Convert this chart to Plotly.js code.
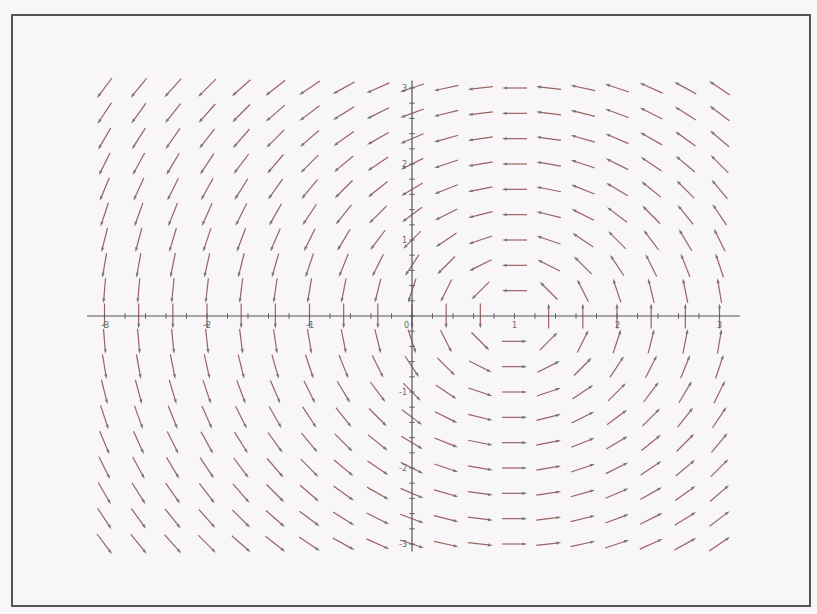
<!DOCTYPE html>
<html>
<head>
<meta charset="utf-8">
<script src="https://cdn.plot.ly/plotly-3.0.1.min.js"></script>
<style>html,body{margin:0;padding:0;background:#f8f6f8;}#chart{width:817px;height:614px;}</style>
</head>
<body>
<div id="chart"></div>
<script>
// Direction field of the system  x' = -y ,  y' = x - 1  (rotation about (1, 0))
const gridX = [-3, -2.6667, -2.3333, -2, -1.6667, -1.3333, -1, -0.6667, -0.3333, 0,
               0.3333, 0.6667, 1, 1.3333, 1.6667, 2, 2.3333, 2.6667, 3];
const gridY = [-3, -2.6667, -2.3333, -2, -1.6667, -1.3333, -1, -0.6667, -0.3333, 0,
               0.3333, 0.6667, 1, 1.3333, 1.6667, 2, 2.3333, 2.6667, 3];
const fieldDX = (x, y) => -y;
const fieldDY = (x, y) => x - 1;

const xTickVals = [-3, -2, -1, 0, 1, 2, 3];
const xTickLabels = ['-3', '-2', '-1', '0', '1', '2', '3'];
const yTickVals = [-3, -2, -1, 1, 2, 3];
const yTickLabels = ['-3', '-2', '-1', '1', '2', '3'];

const W = 817, H = 614;
const xRange = [-412 / 102.5, (W - 412) / 102.5];
const yRange = [-(H - 316) / 76, 316 / 76];
const pxX = W / (xRange[1] - xRange[0]);
const pxY = H / (yRange[1] - yRange[0]);
const halfLen = 12.5; // pixels

const ax = [], ay = [], msize = [];
gridX.forEach(x => {
  gridY.forEach(y => {
    const dx = fieldDX(x, y), dy = fieldDY(x, y);
    if (Math.hypot(dx, dy) < 1e-9) return; // equilibrium point: no arrow
    const a = Math.atan2(dy, dx);
    const hx = halfLen * Math.cos(a) / pxX;
    const hy = halfLen * Math.sin(a) / pxY;
    ax.push(x - hx, x + hx, null);
    ay.push(y - hy, y + hy, null);
    msize.push(0, 5, 0);
  });
});

// axis ticks
const tX = [], tY = [];
for (let i = -15; i <= 15; i++) { tX.push(i / 5); tY.push(0); }
const uX = [], uY = [];
for (let i = -15; i <= 15; i++) { uX.push(0); uY.push(i / 5); }

const traces = [
  {
    x: ax, y: ay, type: 'scatter', mode: 'lines+markers', hoverinfo: 'skip',
    line: {color: '#9a6262', width: 1.2},
    marker: {symbol: 'arrow', angleref: 'previous', size: msize, color: '#454545', line: {width: 0}},
    connectgaps: false
  },
  {
    x: tX, y: tY, type: 'scatter', mode: 'markers', hoverinfo: 'skip',
    marker: {symbol: 'line-ns', size: 4, line: {color: '#666', width: 1}}
  },
  {
    x: uX, y: uY, type: 'scatter', mode: 'markers', hoverinfo: 'skip',
    marker: {symbol: 'line-ew', size: 4, line: {color: '#666', width: 1}}
  }
];

const annotations = [];
xTickVals.forEach((v, i) => annotations.push({
  x: v, y: 0, xref: 'x', yref: 'y', text: xTickLabels[i], showarrow: false,
  yshift: -9, xshift: v === 0 ? -6 : 0, font: {family: 'DejaVu Sans', size: 8, color: '#666'}
}));
yTickVals.forEach((v, i) => annotations.push({
  x: 0, y: v, xref: 'x', yref: 'y', text: yTickLabels[i], showarrow: false,
  xanchor: 'right', xshift: -3, font: {family: 'DejaVu Sans', size: 8, color: '#666'}
}));

const layout = {
  width: W, height: H,
  margin: {l: 0, r: 0, t: 0, b: 0},
  paper_bgcolor: '#f8f6f8', plot_bgcolor: '#f8f6f8',
  showlegend: false,
  xaxis: {range: xRange, showgrid: false, zeroline: false, showticklabels: false, ticks: '', fixedrange: true},
  yaxis: {range: yRange, showgrid: false, zeroline: false, showticklabels: false, ticks: '', fixedrange: true},
  shapes: [
    {type: 'line', xref: 'x', yref: 'y', x0: -3.17, x1: 3.2, y0: 0, y1: 0, line: {color: '#555', width: 1.2}},
    {type: 'line', xref: 'x', yref: 'y', x0: 0, x1: 0, y0: -3.1, y1: 3.1, line: {color: '#555', width: 1.2}},
    {type: 'rect', xref: 'paper', yref: 'paper', x0: 12 / W, x1: 810 / W, y0: 1 - 606 / H, y1: 1 - 15 / H,
     line: {color: '#555', width: 2}}
  ],
  annotations: annotations
};

Plotly.newPlot('chart', traces, layout, {staticPlot: true, displayModeBar: false});
</script>
</body>
</html>
